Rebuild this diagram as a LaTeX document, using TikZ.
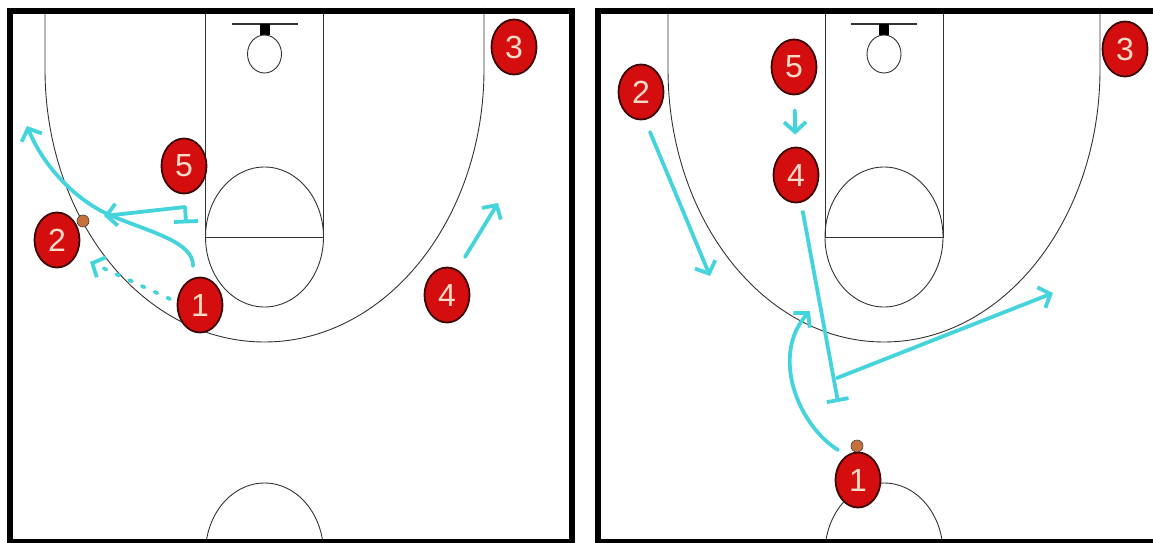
\documentclass[tikz,border=0pt]{standalone}
\usepackage{fontspec}
\setmainfont{Liberation Sans}
\usetikzlibrary{shapes.geometric,arrows.meta}
\definecolor{playred}{RGB}{212,14,14}
\definecolor{playedge}{RGB}{60,8,8}
\definecolor{numtext}{RGB}{250,218,200}
\definecolor{movecyan}{RGB}{70,212,220}
\definecolor{ballbrown}{RGB}{200,112,58}
\begin{document}
\begin{tikzpicture}[x=1pt,y=-1pt]
        \tikzset{player/.style={ellipse, draw=playedge, line width=1.8pt, fill=playred, minimum width=45pt, minimum height=55pt, inner sep=0pt, text=numtext, font=\fontsize{32}{32}\selectfont},
          ball/.style={circle, draw=black!75, fill=ballbrown, minimum size=12pt, inner sep=0pt, line width=0.6pt},
          court line/.style={draw=black!80, line width=0.9pt},
          move/.style={draw=movecyan, line width=3.8pt, line cap=round, -{Straight Barb[length=10pt,width=22pt]}},
          screen/.style={draw=movecyan, line width=3.8pt, -{Bar[width=22pt]}},
          pass/.style={move, dash pattern=on 3pt off 11pt}}
        \useasboundingbox[fill=white] (0,0) rectangle (1153,543);
        \clip (0,0) rectangle (1153,543);
        \foreach \cx/\rx in {264.5/219.5, 884/216} {
          \begin{scope}[xshift=\cx]
            \draw[court line] (-59,8) rectangle (59,237);
            \draw[court line] (0,237) ellipse [x radius=59pt, y radius=70pt];
            \draw[court line] (0,553) ellipse [x radius=59pt, y radius=70pt];
            \draw[court line] (-\rx,8) -- (-\rx,69) arc [start angle=180, end angle=360, x radius=\rx pt, y radius=273pt] -- (\rx,8);
            \draw[court line, line width=1.5pt] (-33,24) -- (33,24);
            \fill[black] (-5,24) rectangle (5,35);
            \draw[court line, fill=white] (0,54) ellipse [x radius=17pt, y radius=19pt];
          \end{scope}
        }
        \draw[line width=6pt] (10,11) rectangle (572,542);
        \draw[line width=6pt] (598,11) rectangle (1175,542);
        \node[player] (l1) at (200,305) {1};
        \node[player] (l2) at (57,240) {2};
        \node[player] (l3) at (514,47) {3};
        \node[player] (l4) at (447,295) {4};
        \node[player] (l5) at (184,166) {5};
        \node[ball] (lball) at (83,221) {};
        \coordinate (l1out) at (193,266);
        \coordinate (lcut) at (27,126);
        \coordinate (l5set) at (185,207);
        \coordinate (l5to) at (104,216);
        \coordinate (l1pass) at (170,299);
        \coordinate (l2pass) at (90,262);
        \coordinate (l4out) at (465,257);
        \coordinate (l4to) at (498,203);
        \draw[move] (l1out) .. controls (194,242) and (150,232) .. (112,216) .. controls (80,203) and (45,170) .. (lcut);
        \draw[move] (l5set) -- (l5to);
        \draw[draw=movecyan, line width=3.8pt] (l5set) -- (186,222) (174,222) -- (198,221);
        \draw[pass] (l1pass) -- (l2pass);
        \draw[move] (l4out) -- (l4to);
        \node[player] (r1) at (858,480) {1};
        \node[player] (r2) at (641,92) {2};
        \node[player] (r3) at (1125,49) {3};
        \node[player] (r4) at (796,175) {4};
        \node[player] (r5) at (794,67) {5};
        \node[ball] (rball) at (857,446) {};
        \coordinate (r2out) at (650,132);
        \coordinate (r2to) at (710,276);
        \coordinate (r4set) at (838,402);
        \coordinate (r4pop) at (837,378);
        \coordinate (r4to) at (1053,293);
        \coordinate (r1out) at (838,450);
        \coordinate (r1cut) at (810,311);
        \draw[move] (r2out) -- (r2to);
        \draw[move, shorten <=15pt, shorten >=12pt] (r5) -- (r4);
        \draw[screen, shorten <=8pt] (r4) -- (r4set);
        \draw[move] (r4pop) -- (r4to);
        \draw[move] (r1out) .. controls (798,425) and (770,355) .. (r1cut);
      \end{tikzpicture}
\end{document}
